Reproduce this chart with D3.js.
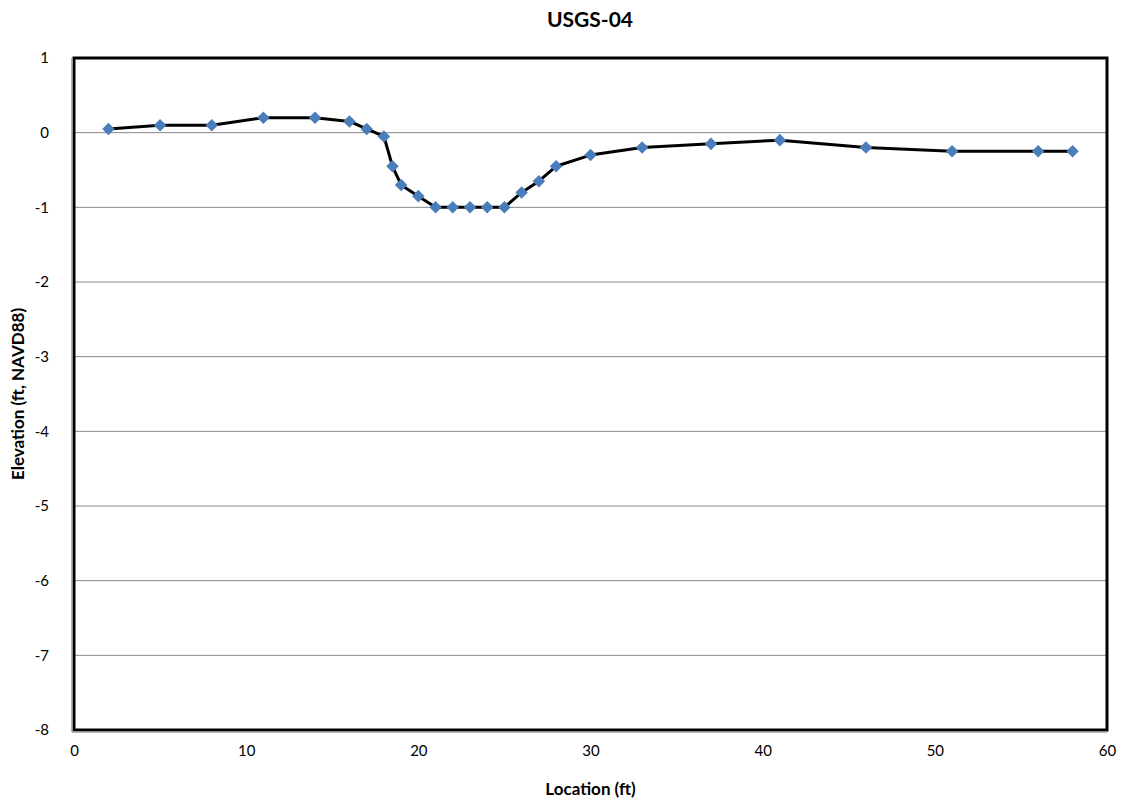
<!DOCTYPE html>
<html>
<head>
<meta charset="utf-8">
<script src="https://cdn.jsdelivr.net/npm/d3@7"></script>
<style>
  body { margin: 0; background: #fff; }
  text { font-family: Lato, "Open Sans", sans-serif; }
</style>
</head>
<body>
<div id="chart"></div>
<script>
const locations = [2, 5, 8, 11, 14, 16, 17, 18, 18.5, 19, 20, 21, 22, 23, 24, 25, 26, 27, 28, 30, 33, 37, 41, 46, 51, 56, 58];
const elevations = [0.05, 0.1, 0.1, 0.2, 0.2, 0.15, 0.05, -0.05, -0.45, -0.7, -0.85, -1, -1, -1, -1, -1, -0.8, -0.65, -0.45, -0.3, -0.2, -0.15, -0.1, -0.2, -0.25, -0.25, -0.25];
const xTicks = [0, 10, 20, 30, 40, 50, 60];
const yTicks = [1, 0, -1, -2, -3, -4, -5, -6, -7, -8];

const W = 1126, H = 805;
const m = { left: 74, right: 19, top: 58, bottom: 75 };

const svg = d3.select('#chart').append('svg').attr('width', W).attr('height', H);

const x = d3.scaleLinear().domain([0, 60]).range([m.left, W - m.right]);
const y = d3.scaleLinear().domain([-8, 1]).range([H - m.bottom, m.top]);

// gridlines
svg.append('g').selectAll('line').data(yTicks.slice(1, -1)).join('line')
  .attr('x1', x(0)).attr('x2', x(60))
  .attr('y1', d => y(d)).attr('y2', d => y(d))
  .attr('stroke', '#878787').attr('stroke-width', 1);

// frame
svg.append('rect')
  .attr('x', x(0)).attr('y', y(1))
  .attr('width', x(60) - x(0)).attr('height', y(-8) - y(1))
  .attr('fill', 'none').attr('stroke', '#000').attr('stroke-width', 3);
svg.append('line').attr('x1', x(0) - 2).attr('x2', x(0) - 2).attr('y1', y(1)).attr('y2', y(-8) + 2)
  .attr('stroke', '#9a9a9a').attr('stroke-width', 1.5);
svg.append('line').attr('x1', x(0) - 2).attr('x2', x(60)).attr('y1', y(-8) + 2).attr('y2', y(-8) + 2)
  .attr('stroke', '#9a9a9a').attr('stroke-width', 1.5);

// axes labels
const fmt = d => String(d);
const xAxis = d3.axisBottom(x).tickValues(xTicks).tickFormat(fmt).tickSize(0).tickPadding(15);
svg.append('g').attr('transform', `translate(0,${y(-8)})`).call(xAxis)
  .call(g => g.select('.domain').remove())
  .selectAll('text').attr('font-size', 15).attr('fill', '#000').style('font-family', 'Lato, "Open Sans", sans-serif');

const yAxis = d3.axisLeft(y).tickValues(yTicks).tickFormat(fmt).tickSize(0).tickPadding(25);
svg.append('g').attr('transform', `translate(${x(0)},0)`).call(yAxis)
  .call(g => g.select('.domain').remove())
  .selectAll('text').attr('font-size', 15).attr('fill', '#000').style('font-family', 'Lato, "Open Sans", sans-serif');

// line
const pts = locations.map((d, i) => [d, elevations[i]]);
svg.append('path').datum(pts)
  .attr('d', d3.line().x(d => x(d[0])).y(d => y(d[1])))
  .attr('fill', 'none').attr('stroke', '#000').attr('stroke-width', 3).attr('stroke-linejoin', 'round');

svg.append('g').selectAll('path').data(pts).join('path')
  .attr('d', d3.symbol(d3.symbolDiamond2, 100))
  .attr('transform', d => `translate(${x(d[0])},${y(d[1])})`)
  .attr('fill', '#4a7ebb');

// titles
svg.append('text').attr('x', 590).attr('y', 27).attr('text-anchor', 'middle')
  .attr('font-size', 21).attr('font-weight', 'bold').text('USGS-04');
svg.append('text').attr('x', x(30)).attr('y', 795).attr('text-anchor', 'middle')
  .attr('font-size', 17).attr('font-weight', 'bold').text('Location (ft)');
svg.append('text').attr('transform', `translate(24,${y(-3.5)}) rotate(-90)`).attr('text-anchor', 'middle')
  .attr('font-size', 17).attr('font-weight', 'bold').text('Elevation (ft, NAVD88)');
</script>
</body>
</html>
